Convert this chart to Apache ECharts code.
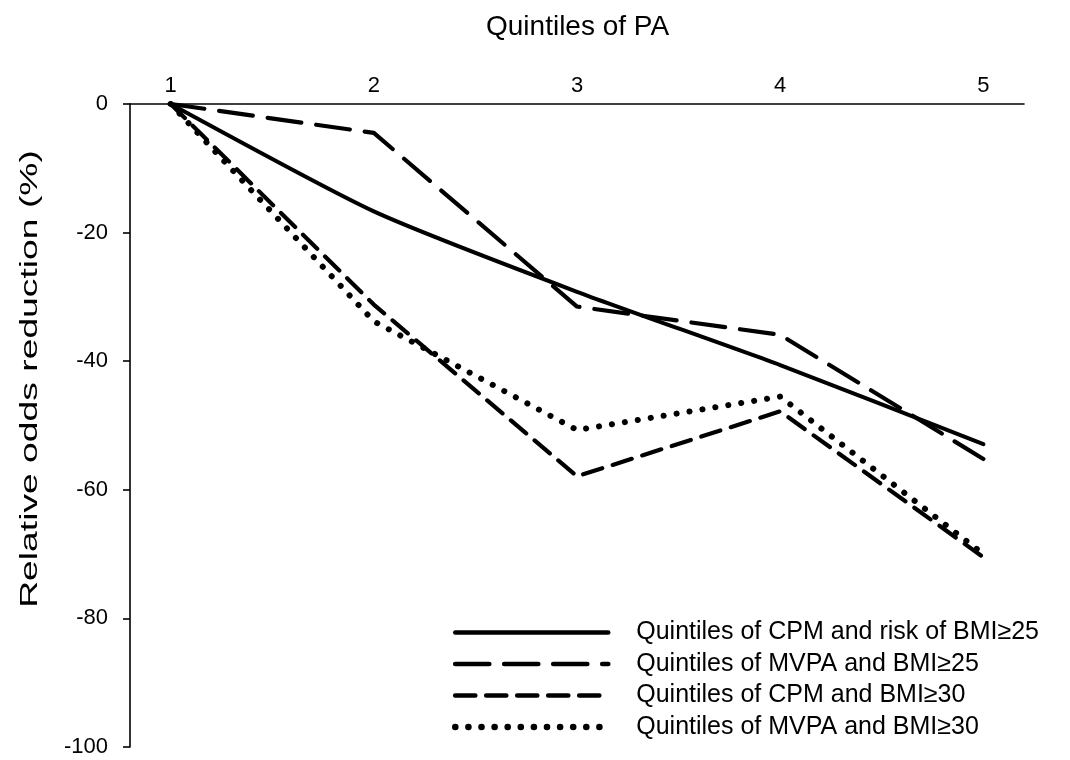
<!DOCTYPE html>
<html>
<head>
<meta charset="utf-8">
<script src="https://cdn.jsdelivr.net/npm/echarts@6/dist/echarts.min.js"></script>
<style>
html,body{margin:0;padding:0;background:#fff;}
#chart{width:1070px;height:760px;}
</style>
</head>
<body>
<div id="chart"></div>
<script>
// ---- data ----
var quintiles = [1, 2, 3, 4, 5];
var xTickLabels = ['1', '2', '3', '4', '5'];
var seriesNames = [
  'Quintiles of CPM and risk of BMI\u226525',
  'Quintiles of MVPA and BMI\u226525',
  'Quintiles of CPM and BMI\u226530',
  'Quintiles of MVPA and BMI\u226530'
];
var cpmBmi25 = [0, -16.7, -29.2, -40.6, -52.9];
var mvpaBmi25 = [0, -4.5, -31.5, -35.9, -55.2];
var cpmBmi30 = [0, -31.2, -57.9, -47.8, -70.5];
var mvpaBmi30 = [0, -33.8, -50.7, -45.5, -70.0];
var yTicks = [0, -20, -40, -60, -80, -100];
var titleText = 'Quintiles of PA';
var yTitle = 'Relative odds reduction (%)';

function pairs(vals) {
  return quintiles.map(function (q, i) { return [q, vals[i]]; });
}

var font = 'Liberation Sans, Arial, sans-serif';
var chart = echarts.init(document.getElementById('chart'), null, {renderer: 'canvas'});

var styles = [
  {width: 4, type: 'solid'},
  {width: 4.2, type: [34, 15]},
  {width: 4.2, type: [20, 11]},
  {width: 6, type: [0.1, 13]}
];

var option = {
  backgroundColor: '#fff',
  animation: false,
  textStyle: {fontFamily: font, color: '#000'},
  title: {
    text: titleText,
    left: 481,
    top: 8,
    textStyle: {fontFamily: font, fontSize: 28, fontWeight: 'normal', color: '#000'}
  },
  grid: {left: 130, right: 46, top: 104, bottom: 13, containLabel: false},
  xAxis: {
    type: 'value',
    position: 'top',
    min: 0.8,
    max: 5.2,
    interval: 0.2,
    axisLine: {show: true, onZero: false, lineStyle: {color: '#000', width: 1.6}},
    axisTick: {show: false},
    splitLine: {show: false},
    axisLabel: {
      fontFamily: font,
      fontSize: 22,
      color: '#000',
      margin: 7,
      showMinLabel: false,
      showMaxLabel: false,
      formatter: function (v) {
        var r = Math.round(v);
        if (Math.abs(v - r) < 1e-6) {
          var idx = quintiles.indexOf(r);
          return idx >= 0 ? xTickLabels[idx] : '';
        }
        return '';
      }
    }
  },
  yAxis: {
    type: 'value',
    min: yTicks[yTicks.length - 1],
    max: yTicks[0],
    interval: 20,
    axisLine: {show: true, onZero: false, lineStyle: {color: '#000', width: 1.6}},
    axisTick: {show: true, inside: false, length: 7, lineStyle: {color: '#000', width: 1.6}},
    splitLine: {show: false},
    axisLabel: {fontFamily: font, fontSize: 22, color: '#000', margin: 22}
  },
  legend: {
    orient: 'vertical',
    left: 452,
    top: 620,
    itemWidth: 153,
    itemHeight: 22,
    itemGap: 6.5,
    padding: 0,
    inactiveColor: '#000',
    itemStyle: {opacity: 0, color: 'rgba(0,0,0,0)', borderWidth: 0},
    textStyle: {fontFamily: font, fontSize: 25, lineHeight: 22, color: '#000', padding: [0, 0, 0, 23]},
    data: seriesNames.map(function (n, i) {
      return {
        name: n,
        itemStyle: {opacity: 0, color: 'rgba(0,0,0,0)', borderWidth: 0},
        lineStyle: {color: '#000', width: styles[i].width + 0.5, type: styles[i].type, cap: 'round', opacity: 1}
      };
    })
  },
  graphic: [{
    type: 'text',
    x: 30,
    y: 379,
    rotation: Math.PI / 2,
    scaleX: 1.62,
    scaleY: 1.05,
    style: {
      text: yTitle,
      x: 0,
      y: 0,
      align: 'center',
      verticalAlign: 'middle',
      font: '23px ' + font,
      fill: '#000'
    }
  }],
  series: seriesNames.map(function (n, i) {
    var vals = [cpmBmi25, mvpaBmi25, cpmBmi30, mvpaBmi30][i];
    return {
      name: n,
      type: 'line',
      data: pairs(vals),
      symbol: 'none',
      smooth: i === 0 ? 0.2 : false,
      lineStyle: {color: '#000', width: styles[i].width, type: styles[i].type, cap: 'round', join: 'round'},
      itemStyle: {color: '#000'}
    };
  })
};
chart.setOption(option);
</script>
</body>
</html>
